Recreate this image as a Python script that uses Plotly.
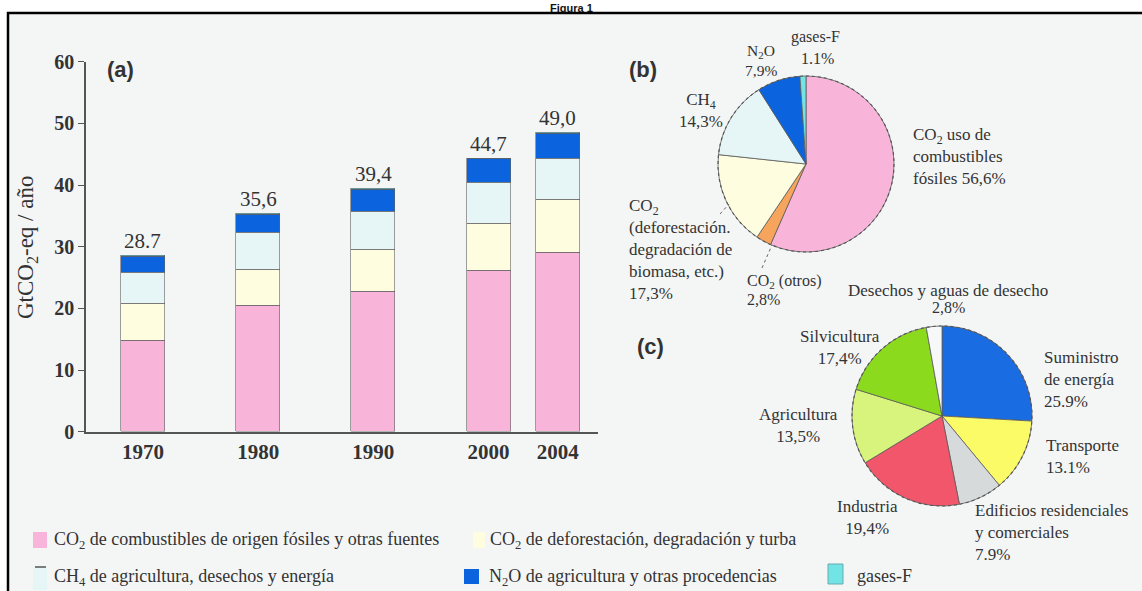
import plotly.graph_objects as go

# ---------------- data ----------------
years = ["1970", "1980", "1990", "2000", "2004"]
co2_fossil = [14.75, 20.4, 22.7, 26.1, 29.0]
co2_defor = [5.95, 5.9, 6.8, 7.7, 8.7]
ch4 = [5.05, 5.9, 6.1, 6.6, 6.6]
n2o = [2.65, 3.0, 3.7, 3.8, 4.1]
fgases = [0.1, 0.1, 0.1, 0.1, 0.1]
totals_text = ["28.7", "35,6", "39,4", "44,7", "49,0"]

gas_labels = ["CO2 uso de combustibles fósiles", "CO2 (otros)",
              "CO2 (deforestación, degradación de biomasa, etc.)",
              "CH4", "N2O", "gases-F"]
gas_share = [56.6, 2.8, 17.3, 14.3, 7.9, 1.1]

sector_labels = ["Suministro de energía", "Transporte",
                 "Edificios residenciales y comerciales", "Industria",
                 "Agricultura", "Silvicultura", "Desechos y aguas de desecho"]
sector_share = [25.9, 13.1, 7.9, 19.4, 13.5, 17.4, 2.8]

# ---------------- layout helpers ----------------
W, H = 1142, 591
def px(x):
    return x / W
def py(y):
    return 1 - y / H

bar_pos = [1970, 1980, 1990, 2000, 2006]   # horizontal placement of bars
SERIF = "Liberation Serif, Times New Roman, serif"
SANS = "Liberation Sans, Arial, sans-serif"
TXT = "#333333"

C_PINK = "#F8B4D9"
C_YEL = "#FEFDDF"
C_CYANL = "#E6F6F7"
C_BLUE = "#0B64DD"
C_FGAS = "#72E4E6"
C_ORANGE = "#F7A45C"

fig = go.Figure()

series = [
    ("CO2 fósil", co2_fossil, C_PINK),
    ("CO2 deforestación", co2_defor, C_YEL),
    ("CH4", ch4, C_CYANL),
    ("N2O", n2o, C_BLUE),
    ("gases-F", fgases, C_FGAS),
]
for name, vals, col in series:
    fig.add_trace(go.Bar(
        x=bar_pos, y=vals, name=name, width=3.82,
        marker=dict(color=col, line=dict(color="#606060", width=0.6)),
        showlegend=False, xaxis="x", yaxis="y"))

stack_tops = [sum(v) for v in zip(co2_fossil, co2_defor, ch4, n2o, fgases)]

annotations = []
for xp, top, t in zip(bar_pos, stack_tops, totals_text):
    annotations.append(dict(x=xp, y=top, xref="x", yref="y", text=t,
                            showarrow=False, yanchor="bottom", yshift=1,
                            font=dict(family=SERIF, size=21, color=TXT)))

PIE_B = dict(x=[px(718), px(894)], y=[py(252), py(76)])
PIE_C = dict(x=[px(852), px(1032)], y=[py(506), py(326)])

# Pie (b)
fig.add_trace(go.Pie(
    labels=gas_labels, values=gas_share, sort=False, direction="clockwise",
    rotation=0, textinfo="none", showlegend=False, automargin=False,
    domain=PIE_B,
    marker=dict(colors=[C_PINK, C_ORANGE, C_YEL, C_CYANL, C_BLUE, C_FGAS],
                line=dict(color="#5a5a5a", width=0.8))))

# Pie (c)
fig.add_trace(go.Pie(
    labels=sector_labels, values=sector_share, sort=False, direction="clockwise",
    rotation=0, textinfo="none", showlegend=False, automargin=False,
    domain=PIE_C,
    marker=dict(colors=["#1A6CE3", "#FBFB68", "#D7DADB", "#F2566B",
                        "#D8F47C", "#8CDA1E", "#F7F8F8"],
                line=dict(color="#5a5a5a", width=0.8))))


def ann(x, y, text, size=17, xanchor="center", family=SERIF, bold=False,
        color=TXT, yanchor="middle"):
    annotations.append(dict(
        x=px(x), y=py(y), xref="paper", yref="paper", text=text,
        showarrow=False, xanchor=xanchor, yanchor=yanchor,
        align=xanchor if xanchor != "center" else "center",
        font=dict(family=family, size=size, color=color,
                  weight="bold" if bold else "normal")))


# title, squeezed above the frame at the top edge
ann(571, 0, "Figura 1", size=11, family=SANS, bold=True, color="#111111",
    yanchor="top")
# panel letters
ann(120, 70, "(a)", size=22, family=SANS, bold=True)
ann(643, 70, "(b)", size=22, family=SANS, bold=True)
ann(650, 346, "(c)", size=22, family=SANS, bold=True)

# y axis title
annotations.append(dict(x=px(27), y=py(248), xref="paper", yref="paper",
                        text="GtCO<sub>2</sub>-eq / año", textangle=-90,
                        showarrow=False, xanchor="center", yanchor="middle",
                        font=dict(family=SERIF, size=23, color=TXT)))

# pie (b) labels
ann(815, 37, "gases-F", size=16)
ann(817, 58, "1.1%", size=16)
ann(761, 51, "N<sub>2</sub>O", size=15.5)
ann(761, 71, "7,9%", size=15.5)
ann(701, 110, "CH<sub>4</sub><br>14,3%")
ann(911, 156, "CO<sub>2</sub> uso de<br>combustibles<br>fósiles 56,6%",
    xanchor="left")
ann(627, 249, "CO<sub>2</sub><br>(deforestación.<br>degradación de<br>"
    "biomasa, etc.)<br>17,3%", xanchor="left")
ann(745, 281, "CO<sub>2</sub> (otros)", size=16, xanchor="left")
ann(745, 299, "2,8%", size=16, xanchor="left")

# pie (c) labels
ann(948, 290, "Desechos y aguas de desecho", size=17)
ann(948, 307, "2,8%", size=16)
ann(840, 347, "Silvicultura<br>17,4%")
ann(1042, 379, "Suministro<br>de energía<br>25.9%", xanchor="left")
ann(798, 425, "Agricultura<br>13,5%")
ann(1044, 456, "Transporte<br>13.1%", xanchor="left")
ann(867, 517, "Industria<br>19,4%")
ann(973, 532, "Edificios residenciales<br>y comerciales<br>7.9%",
    xanchor="left")

# legend texts
ann(52, 540, "CO<sub>2</sub> de combustibles de origen fósiles y otras fuentes",
    size=18, xanchor="left")
ann(488, 540, "CO<sub>2</sub> de deforestación, degradación y turba",
    size=18, xanchor="left")
ann(52, 577, "CH<sub>4</sub> de agricultura, desechos y energía",
    size=18, xanchor="left")
ann(487, 577, "N<sub>2</sub>O de agricultura y otras procedencias",
    size=18, xanchor="left")
ann(855, 576, "gases-F", size=18, xanchor="left")

dotted = dict(color="#666666", width=1, dash="dot")
shapes = [
    # page frame
    dict(type="rect", xref="paper", yref="paper", x0=px(8), x1=px(1150),
         y0=py(610), y1=py(13), fillcolor="#F4F6F6",
         line=dict(color="#000000", width=2.5), layer="below"),
    # dashed outlines of the pies
    dict(type="circle", xref="paper", yref="paper", x0=PIE_B["x"][0],
         x1=PIE_B["x"][1], y0=PIE_B["y"][0], y1=PIE_B["y"][1],
         line=dict(color="#555555", width=1.1, dash="dot")),
    dict(type="circle", xref="paper", yref="paper", x0=PIE_C["x"][0],
         x1=PIE_C["x"][1], y0=PIE_C["y"][0], y1=PIE_C["y"][1],
         line=dict(color="#555555", width=1.1, dash="dot")),
    # leader lines of pie (b)
    dict(type="line", xref="paper", yref="paper", x0=px(720), x1=px(729),
         y0=py(214), y1=py(204), line=dotted),
    dict(type="line", xref="paper", yref="paper", x0=px(762), x1=px(772),
         y0=py(268), y1=py(245), line=dotted),
    # legend swatches
    dict(type="rect", xref="paper", yref="paper", x0=px(33), x1=px(47),
         y0=py(548), y1=py(532), fillcolor=C_PINK, line=dict(width=0)),
    dict(type="rect", xref="paper", yref="paper", x0=px(473), x1=px(485),
         y0=py(548), y1=py(532), fillcolor=C_YEL, line=dict(width=0)),
    dict(type="rect", xref="paper", yref="paper", x0=px(33), x1=px(47),
         y0=py(590), y1=py(567), fillcolor=C_CYANL, line=dict(width=0)),
    dict(type="line", xref="paper", yref="paper", x0=px(35), x1=px(46),
         y0=py(567), y1=py(567), line=dict(color="#555555", width=1.5)),
    dict(type="rect", xref="paper", yref="paper", x0=px(464), x1=px(479),
         y0=py(584), y1=py(569), fillcolor=C_BLUE, line=dict(width=0)),
    dict(type="rect", xref="paper", yref="paper", x0=px(828), x1=px(843),
         y0=py(584), y1=py(564), fillcolor=C_FGAS,
         line=dict(color="#66AAB0", width=1)),
]

fig.update_layout(
    width=W, height=H, margin=dict(l=0, r=0, t=0, b=0, pad=0),
    autosize=False,
    paper_bgcolor="white", plot_bgcolor="rgba(0,0,0,0)",
    barmode="stack", bargap=0,
    xaxis=dict(domain=[px(86), px(598)], range=[1965.06, 2009.5],
               tickvals=bar_pos, ticktext=years, ticks="", automargin=False,
               showline=True, linecolor="#555555", linewidth=1.5,
               showgrid=False, zeroline=False, fixedrange=True,
               tickfont=dict(family=SERIF, size=21, color=TXT, weight="bold")),
    yaxis=dict(domain=[py(431.7), py(61.7)], range=[0, 60], automargin=False,
               tickvals=[0, 10, 20, 30, 40, 50, 60], ticks="outside",
               ticklen=6, tickcolor="#555555", tickwidth=1.2,
               showline=True, linecolor="#555555", linewidth=1.5,
               showgrid=False, zeroline=False, fixedrange=True,
               tickfont=dict(family=SERIF, size=20, color=TXT, weight="bold")),
    annotations=annotations, shapes=shapes,
)

fig.write_html(
    "out.html",
    config={"displayModeBar": False},
    post_script="document.body.style.margin='0px';"
                "document.body.style.overflow='hidden';")
